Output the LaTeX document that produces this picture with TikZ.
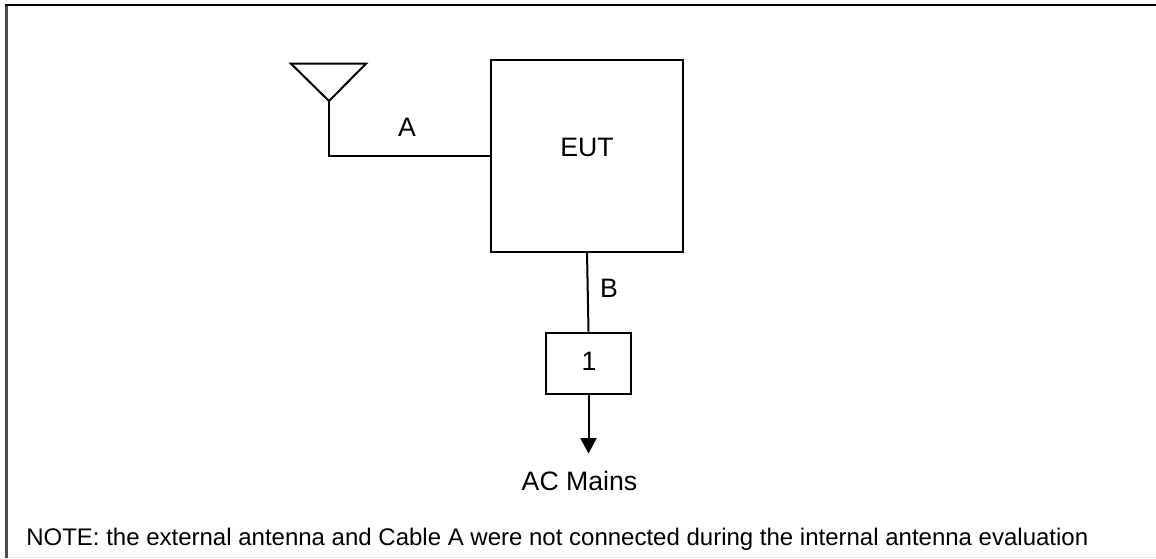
\documentclass[tikz,border=0pt]{standalone}
\usepackage{fontspec}
\setmainfont{Liberation Sans}
\usetikzlibrary{arrows.meta}
\tikzset{
  x=0.75pt,y=-0.75pt,
  ln/.style={draw=black,line width=1.5pt},
  lbl/.style={font=\fontsize{20}{22}\selectfont,text=black,inner sep=0pt},
  notelbl/.style={font=\fontsize{18}{20}\selectfont,text=black,inner sep=0pt},
  boxnode/.style={ln,inner sep=0pt,fill=white},
}
\begin{document}
\begin{tikzpicture}
\useasboundingbox (0,0) rectangle (1156,558);
\fill[white] (0,0) rectangle (1156,558);
\draw[draw=black!10,line width=0.75pt] (8,557.5) -- (1156,557.5);
\draw[draw=black!70,line width=2.2pt] (6.5,558) -- (6.5,5);
\draw[draw=black,line width=1.5pt] (5,5) -- (1156,5);
\node[boxnode,minimum width=144pt,minimum height=144pt] (eut) at (587,156) {};
\node[lbl] (eutl) at (587,147) {EUT};
\node[boxnode,minimum width=63.75pt,minimum height=46pt] (one) at (588.5,363.3) {};
\node[lbl] (onel) at (589,361) {1};
\coordinate (t1) at (291,63.7);
\coordinate (t2) at (366,63.7);
\coordinate (tip) at (329,101);
\coordinate (corner) at (329,156);
\coordinate (eutw) at (491,156);
\coordinate (eutb) at (587,252);
\draw[ln,line join=miter] (t1) -- (t2) -- (tip) -- cycle;
\draw[ln] (tip) -- (corner) -- (eutw);
\node[lbl] (a) at (407,127) {A};
\draw[ln] (eutb) -- (one.north);
\node[lbl] (b) at (609,288) {B};
\coordinate (arrowend) at (588.5,453.5);
\draw[ln,-{Triangle[length=11.5pt,width=12pt]}] (one.south) -- (arrowend);
\node[lbl] (ac) at (579.5,481) {AC Mains};
\node[notelbl,anchor=base west] (note) at (26,545) {NOTE: the external antenna and Cable A were not connected during the internal antenna evaluation};
\end{tikzpicture}
\end{document}
